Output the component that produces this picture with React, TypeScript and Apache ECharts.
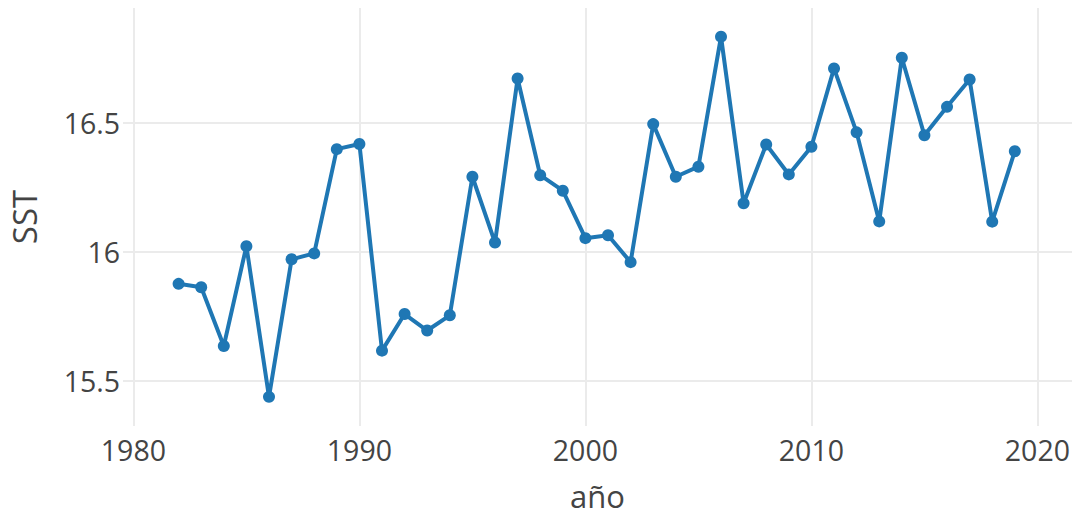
import React, { useEffect, useRef } from "react";
import * as echarts from "echarts";

const years: number[] = [
  1982, 1983, 1984, 1985, 1986, 1987, 1988, 1989, 1990, 1991,
  1992, 1993, 1994, 1995, 1996, 1997, 1998, 1999, 2000, 2001,
  2002, 2003, 2004, 2005, 2006, 2007, 2008, 2009, 2010, 2011,
  2012, 2013, 2014, 2015, 2016, 2017, 2018, 2019,
];

const sst: number[] = [
  15.877, 15.864, 15.636, 16.023, 15.439, 15.972, 15.995, 16.399, 16.419, 15.618,
  15.760, 15.696, 15.755, 16.292, 16.037, 16.673, 16.298, 16.238, 16.054, 16.065,
  15.961, 16.496, 16.292, 16.331, 16.835, 16.189, 16.417, 16.301, 16.408, 16.712,
  16.464, 16.119, 16.753, 16.453, 16.563, 16.669, 16.118, 16.391,
];

const xTicks: number[] = [1980, 1990, 2000, 2010, 2020];
const yTicks: number[] = [15.5, 16, 16.5];

const xTitle = "año";
const yTitle = "SST";

export default function App() {
  const ref = useRef<HTMLDivElement>(null);

  useEffect(() => {
    if (!ref.current) return;
    const chart = echarts.init(ref.current, undefined, { renderer: "svg" });
    const font = "'Open Sans', 'DejaVu Sans', sans-serif";
    chart.setOption({
      animation: false,
      backgroundColor: "#ffffff",
      grid: {
        left: 123,
        right: 4,
        top: 8,
        bottom: 89,
        containLabel: false,
        outerBoundsMode: "none",
      },
      xAxis: {
        type: "value",
        min: 1979.54,
        max: 2021.53,
        name: xTitle,
        nameLocation: "middle",
        nameGap: 70,
        nameTextStyle: {
          color: "#444",
          fontSize: 31,
          fontFamily: font,
          verticalAlign: "middle",
          lineHeight: 26,
        },
        axisLine: { show: false },
        axisTick: { show: false, customValues: xTicks },
        axisLabel: {
          customValues: xTicks,
          color: "#444",
          fontSize: 28.5,
          fontFamily: font,
          margin: 9,
          formatter: (v: number) => String(v),
        },
        splitLine: { show: true, lineStyle: { color: "#ebebeb", width: 2 } },
      },
      yAxis: {
        type: "value",
        min: 15.326,
        max: 16.946,
        name: yTitle,
        nameLocation: "middle",
        nameGap: 82,
        nameRotate: 90,
        nameTextStyle: { color: "#444", fontSize: 33, fontFamily: font },
        axisLine: { show: false },
        axisTick: { show: false, customValues: yTicks },
        axisLabel: {
          customValues: yTicks,
          color: "#444",
          fontSize: 28.5,
          fontFamily: font,
          margin: 3,
          formatter: (v: number) => String(v),
        },
        splitLine: { show: true, lineStyle: { color: "#ebebeb", width: 2 } },
      },
      series: [
        {
          type: "line",
          data: years.map((y, i) => [y, sst[i]]),
          symbol: "circle",
          symbolSize: 12,
          showSymbol: true,
          lineStyle: { color: "#1f77b4", width: 4 },
          itemStyle: { color: "#1f77b4" },
        },
      ],
    });
    return () => chart.dispose();
  }, []);

  return (
    <div
      ref={ref}
      style={{ position: "fixed", left: 0, top: 0, width: 1076, height: 515, background: "#fff" }}
    />
  );
}
